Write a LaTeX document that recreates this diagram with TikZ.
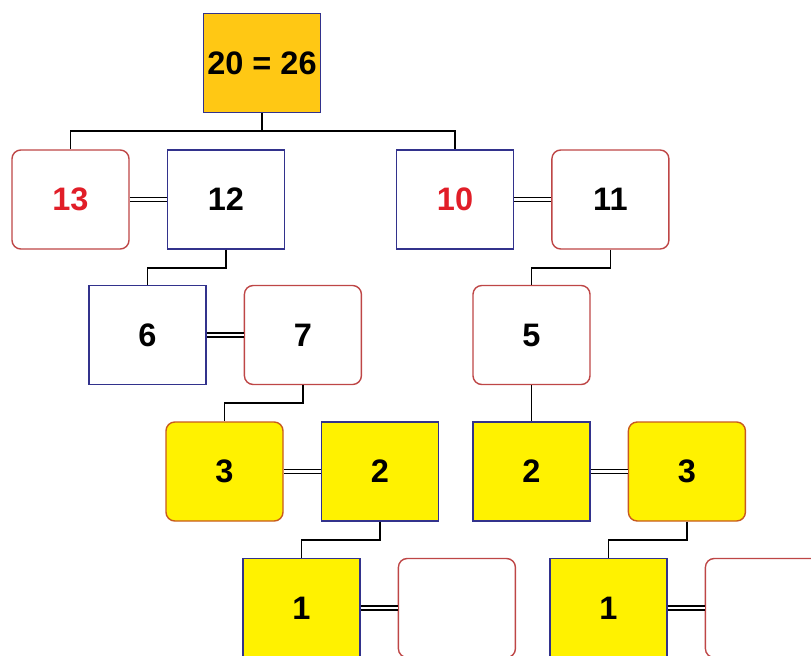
\documentclass[tikz,border=0pt]{standalone}
\usepackage{fontspec}
\setmainfont{Liberation Sans}
\usetikzlibrary{positioning}
\definecolor{bordblue}{RGB}{50,50,140}
\definecolor{bordred}{RGB}{190,70,70}
\definecolor{bordorange}{RGB}{200,90,30}
\definecolor{numred}{RGB}{225,30,40}
\definecolor{fillorange}{RGB}{255,200,20}
\definecolor{fillyellow}{RGB}{255,242,0}

\begin{document}
\begin{tikzpicture}[
    node distance=0.74cm and 0.74cm,
    box/.style={rectangle, minimum width=2.34cm, minimum height=1.98cm, inner sep=0pt, line width=0.8pt, font=\fontsize{18.5}{22}\selectfont\bfseries},
    sqbox/.style={box, draw=bordblue, fill=white},
    rndbox/.style={box, draw=bordred, fill=white, rounded corners=5pt},
    ylwsq/.style={box, draw=bordblue, fill=fillyellow},
    ylwrnd/.style={box, draw=bordorange, fill=fillyellow, rounded corners=5pt},
    link/.style={line width=1pt},
    pair/.style={double, double distance=1.6pt, line width=0.8pt}
]
\clip (0,0) rectangle (16.22,-13.1);

% Top
\node[box, draw=bordblue, fill=fillorange] (root) at (5.24,-1.26) {20 = 26};

% Row 1
\node[rndbox, text=numred] (n13) at (1.41,-3.99) {13};
\node[sqbox, right=of n13] (n12) {12};
\node[sqbox, text=numred] (n10) at (9.10,-3.99) {10};
\node[rndbox, right=of n10] (n11) {11};

% Row 2
\node[sqbox] (n6) at (2.95,-6.70) {6};
\node[rndbox, right=of n6] (n7) {7};
\node[rndbox] (n5) at (10.63,-6.70) {5};

% Row 3
\node[ylwrnd] (n3a) at (4.49,-9.43) {3};
\node[ylwsq, right=of n3a] (n2a) {2};
\node[ylwsq] (n2b) at (10.63,-9.43) {2};
\node[ylwrnd, right=of n2b] (n3b) {3};

% Row 4
\node[ylwsq] (n1a) at (6.03,-12.16) {1};
\node[rndbox, right=of n1a] (e1a) {};
\node[ylwsq] (n1b) at (12.17,-12.16) {1};
\node[rndbox, right=of n1b] (e1b) {};

% Tree lines
\draw[link] (root.south) -- ++(0,-0.36) -| (n13.north);
\draw[link] (root.south) -- ++(0,-0.36) -| (n10.north);
\draw[link] (n12.south) -- ++(0,-0.36) -| (n6.north);
\draw[link] (n11.south) -- ++(0,-0.36) -| (n5.north);
\draw[link] (n7.south) -- ++(0,-0.36) -| (n3a.north);
\draw[link] (n5.south) -- (n2b.north);
\draw[link] (n2a.south) -- ++(0,-0.36) -| (n1a.north);
\draw[link] (n3b.south) -- ++(0,-0.36) -| (n1b.north);

% Pairs
\draw[pair] (n13) -- (n12);
\draw[pair] (n10) -- (n11);
\draw[pair] (n6) -- (n7);
\draw[pair] (n3a) -- (n2a);
\draw[pair] (n2b) -- (n3b);
\draw[pair] (n1a) -- (e1a);
\draw[pair] (n1b) -- (e1b);

\end{tikzpicture}
\end{document}
